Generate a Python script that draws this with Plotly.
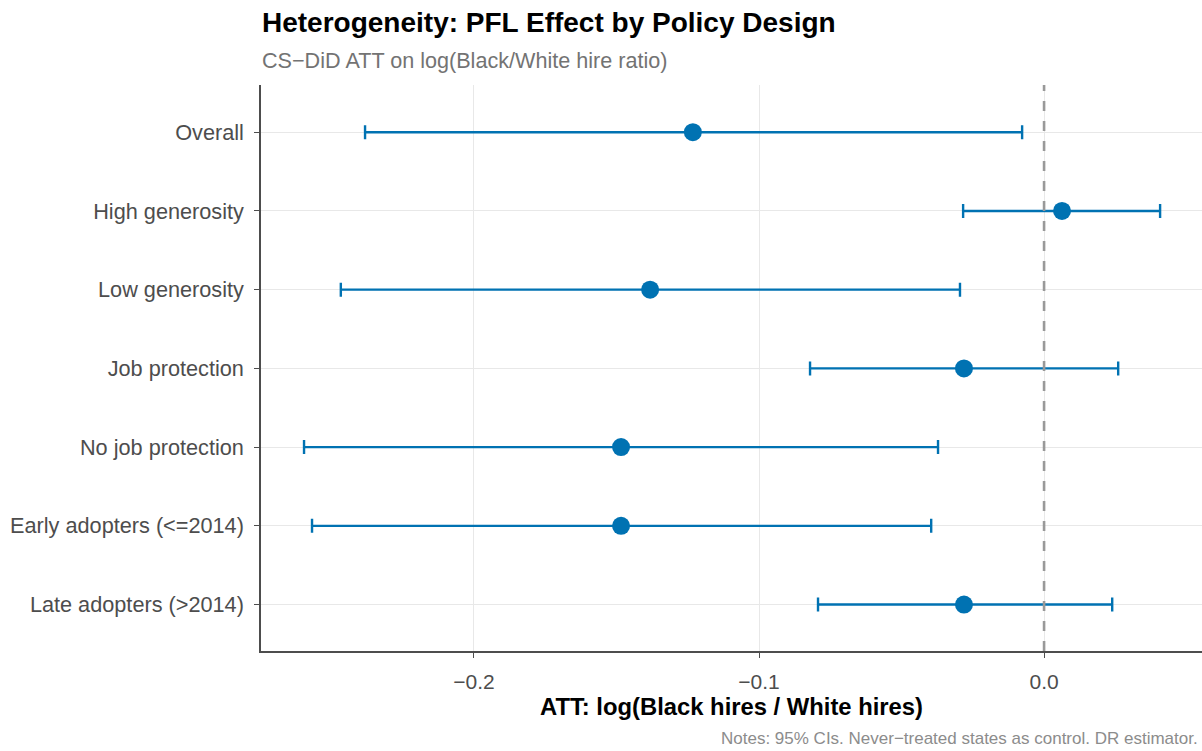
import plotly.graph_objects as go

categories = ["Overall", "High generosity", "Low generosity", "Job protection",
              "No job protection", "Early adopters (<=2014)", "Late adopters (>2014)"]
att = [-0.1232, 0.0063, -0.1382, -0.0281, -0.1484, -0.1484, -0.0281]
ci_low = [-0.2382, -0.0284, -0.2467, -0.0821, -0.2596, -0.2568, -0.0793]
ci_high = [-0.0077, 0.0407, -0.0295, 0.0260, -0.0372, -0.0396, 0.0239]

blue = "#0072B2"
err_plus = [h - a for h, a in zip(ci_high, att)]
err_minus = [a - l for a, l in zip(att, ci_low)]

fig = go.Figure()
fig.add_trace(go.Scatter(
    x=att, y=categories, mode="markers",
    marker=dict(color=blue, size=18, line=dict(width=0)),
    error_x=dict(type="data", symmetric=False, array=err_plus, arrayminus=err_minus,
                 color=blue, thickness=2.4, width=7),
    showlegend=False, hoverinfo="x+y",
))

fig.add_shape(type="line", xref="x", yref="paper", x0=0, x1=0, y0=0, y1=1,
              line=dict(color="#999999", width=2.6, dash="10px,10px"), layer="above")

fig.update_layout(
    width=1202, height=751,
    margin=dict(l=261, r=0, t=85, b=100),
    paper_bgcolor="white", plot_bgcolor="white",
    font=dict(family="Liberation Sans, Arial, sans-serif", color="#4d4d4d"),
    xaxis=dict(range=[-0.2747, 0.0554], tickvals=[-0.2, -0.1, 0.0], tickformat=".1f",
               showgrid=True, gridcolor="#e8e8e8", gridwidth=1, zeroline=False,
               showline=True, linecolor="#4d4d4d", linewidth=1.5,
               ticks="outside", ticklen=5, tickcolor="#4d4d4d", tickwidth=1.2,
               ticklabelstandoff=6,
               tickfont=dict(size=21, color="#4d4d4d"),
               title=dict(text="<b>ATT: log(Black hires / White hires)</b>",
                          font=dict(size=23.8, color="black"), standoff=4)),
    yaxis=dict(categoryorder="array", categoryarray=categories, range=[6.59, -0.6],
               showgrid=True, gridcolor="#e8e8e8", gridwidth=1, zeroline=False,
               showline=True, linecolor="#4d4d4d", linewidth=1.5,
               ticks="outside", ticklen=5, tickcolor="#4d4d4d", tickwidth=1.2,
               ticklabelstandoff=6,
               tickfont=dict(size=21.7, color="#4d4d4d")),
    annotations=[
        dict(text="<b>Heterogeneity: PFL Effect by Policy Design</b>", xref="paper", yref="paper",
             x=0, y=1, xanchor="left", yanchor="middle", yshift=63, xshift=-1, showarrow=False,
             font=dict(size=28, color="black")),
        dict(text="CS\u2212DiD ATT on log(Black/White hire ratio)", xref="paper", yref="paper",
             x=0, y=1, xanchor="left", yanchor="middle", yshift=25, xshift=-1, showarrow=False,
             font=dict(size=21.6, color="#737373")),
        dict(text="Notes: 95% CIs. Never\u2212treated states as control. DR estimator.",
             xref="paper", yref="paper", x=1, y=0, xanchor="right", yanchor="middle",
             yshift=-87, xshift=-2, showarrow=False,
             font=dict(size=17, color="#8c8c8c")),
    ],
)

fig.write_html("out.html", config={"displayModeBar": False},
               post_script="document.body.style.margin='0px';")
